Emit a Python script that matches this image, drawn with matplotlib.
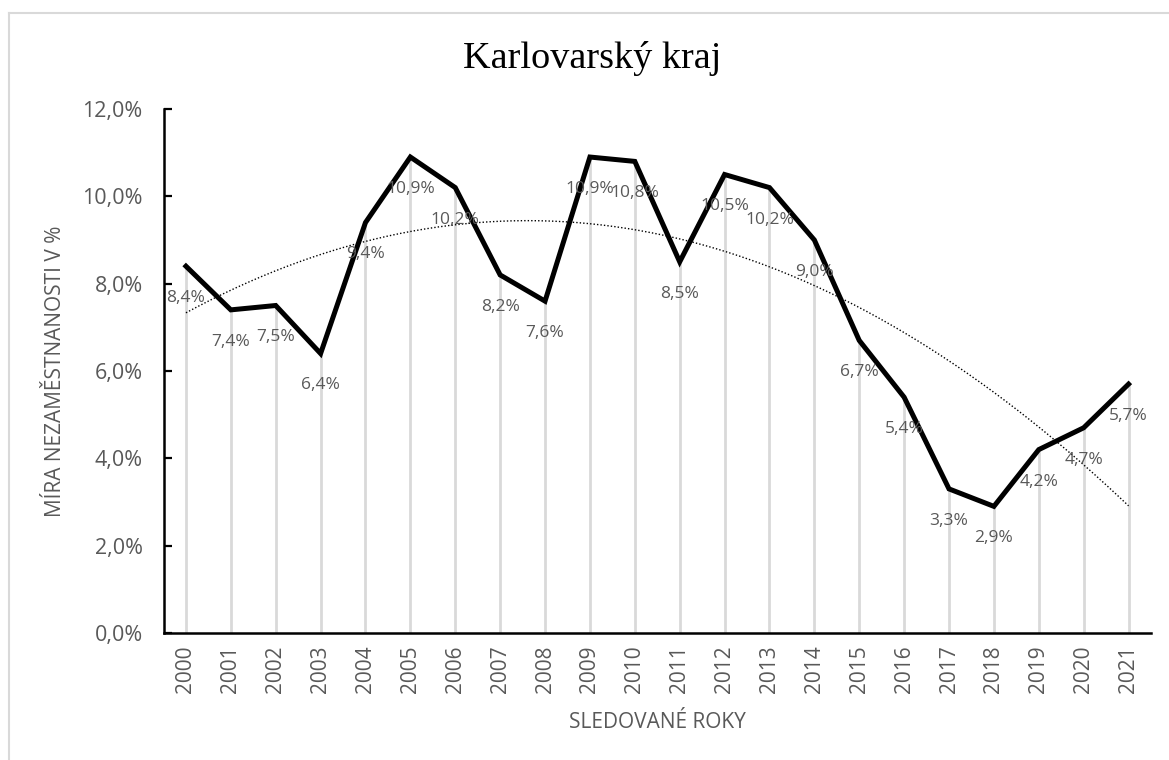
import numpy as np
import matplotlib
matplotlib.use("Agg")
import matplotlib.pyplot as plt
from matplotlib.lines import Line2D

years = [str(y) for y in range(2000, 2022)]
rates = [8.4, 7.4, 7.5, 6.4, 9.4, 10.9, 10.2, 8.2, 7.6, 10.9, 10.8,
         8.5, 10.5, 10.2, 9.0, 6.7, 5.4, 3.3, 2.9, 4.2, 4.7, 5.7]
yticks = [0, 2, 4, 6, 8, 10, 12]

W, H = 1169, 760
fig = plt.figure(figsize=(W / 100, H / 100), dpi=100)
fig.patch.set_facecolor("white")

L, R, T, B = 163.5, 1151, 109, 633
ax = fig.add_axes([L / W, 1 - B / H, (R - L) / W, (B - T) / H])

x = np.arange(len(years))
vals = np.array(rates)

# drop lines
ax.vlines(x, 0, vals, colors="#d9d9d9", linewidth=2, zorder=1)

# polynomial trendline (order 2)
coef = np.polyfit(x, vals, 2)
xt = np.linspace(0, len(years) - 1, 300)
ax.plot(xt, np.polyval(coef, xt), color="black", linewidth=1,
        linestyle=(0, (1, 1.5)), zorder=2)

# main line
ax.plot(x, vals, color="black", linewidth=3.6, solid_joinstyle="miter", zorder=3)

# data labels
for xi, v in zip(x, vals):
    ax.annotate(f"{v:.1f}%".replace(".", ","), (xi, v), xytext=(0, -23),
                textcoords="offset points", ha="center", va="center",
                fontsize=12.5, color="#595959", family="Open Sans", zorder=4)

ax.set_xlim(-0.5, len(years) - 0.5)
ax.set_ylim(0, 12)
ax.set_xticks(x)
ax.set_xticklabels(years, rotation=90, fontsize=15, color="#595959",
                   family="Open Sans")
ax.set_yticks(yticks)
ax.set_yticklabels([f"{t:.1f}%".replace(".", ",") for t in yticks],
                   fontsize=15.5, color="#595959", family="Open Sans")
ax.tick_params(axis="x", length=0, pad=9)
ax.tick_params(axis="y", direction="in", length=6, width=1.6, pad=15)
for s in ["top", "right"]:
    ax.spines[s].set_visible(False)
for s in ["left", "bottom"]:
    ax.spines[s].set_linewidth(1.8)
    ax.spines[s].set_color("black")

fig.text(592 / W, 1 - 68 / H, "Karlovarský kraj", ha="center", va="baseline",
         fontsize=27.5, family="Liberation Serif", color="black")
fig.text(56 / W, 1 - 371 / H, "MÍRA NEZAMĚSTNANOSTI V %", rotation=90,
         ha="center", va="center", fontsize=15, color="#595959", family="Open Sans")
fig.text(657 / W, 1 - 723 / H, "SLEDOVANÉ ROKY", ha="center", va="center",
         fontsize=15, color="#595959", family="Open Sans")

# chart border (top and left visible)
fig.add_artist(Line2D([9 / W, 1], [1 - 13 / H, 1 - 13 / H], color="#d9d9d9",
                      linewidth=1.5, transform=fig.transFigure))
fig.add_artist(Line2D([9 / W, 9 / W], [0, 1 - 13 / H], color="#d9d9d9",
                      linewidth=1.5, transform=fig.transFigure))

fig.savefig("out.png", dpi=100)
